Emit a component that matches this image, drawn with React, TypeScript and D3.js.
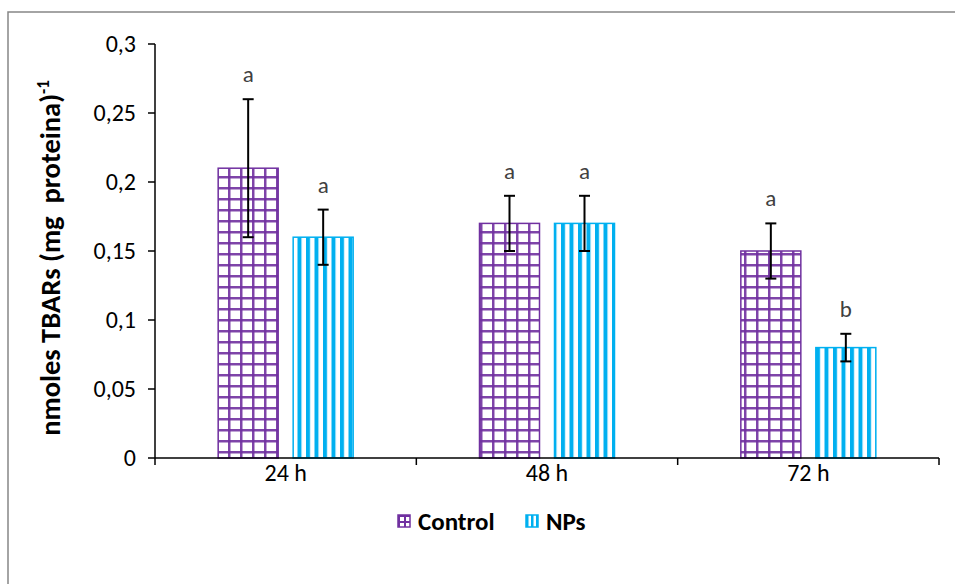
import React from 'react';
import * as d3 from 'd3';

const categories = ['24 h', '48 h', '72 h'];
const series = ['Control', 'NPs'];
const controlValues = [0.21, 0.17, 0.15];
const npsValues = [0.16, 0.17, 0.08];
const controlErrors = [0.05, 0.02, 0.02];
const npsErrors = [0.02, 0.02, 0.01];
const controlLetters = ['a', 'a', 'a'];
const npsLetters = ['a', 'a', 'b'];
const yTicks = [0, 0.05, 0.1, 0.15, 0.2, 0.25, 0.3];

const colors = { Control: '#7030A0', NPs: '#00B0F0' };
const font = 'Carlito, Calibri, Lato, sans-serif';

const W = 955;
const H = 584;
const margin = { left: 155, right: 16, top: 44, bottom: 126 };
const xEnd = 939;

const fmt = d3.formatLocale({ decimal: ',', thousands: '.', grouping: [3], currency: ['', ''] }).format('.2~f');

export default function App() {
  const x = d3.scaleBand().domain(categories).range([margin.left, xEnd]).padding(0);
  const y = d3.scaleLinear().domain([0, 0.3]).range([H - margin.bottom, margin.top]);

  // one inner band per category for the two series
  const rows = categories.map((c, i) => {
    const center = (x(c) as number) + x.bandwidth() / 2;
    const inner = d3.scaleBand().domain(series).range([center - 67.5, center + 67.5]).paddingInner(0.2).paddingOuter(0);
    return [
      { cat: c, s: 'Control', v: controlValues[i], e: controlErrors[i], l: controlLetters[i], x0: inner('Control') as number, w: inner.bandwidth() },
      { cat: c, s: 'NPs', v: npsValues[i], e: npsErrors[i], l: npsLetters[i], x0: inner('NPs') as number, w: inner.bandwidth() },
    ];
  }).flat();

  const y0 = y(0);

  return (
    <svg width={W} height={H} style={{ position: 'absolute', left: 0, top: 0, fontFamily: font }}>
      <defs>
        <pattern id="grid" patternUnits="userSpaceOnUse" width={12} height={11}>
          <rect width={12} height={11} fill="#fff" />
          <rect x={0} y={0} width={12} height={2.5} fill={colors.Control} opacity={0.9} />
          <rect x={0} y={0} width={2.5} height={11} fill={colors.Control} opacity={0.9} />
        </pattern>
        <pattern id="stripes" patternUnits="userSpaceOnUse" width={8.5} height={10}>
          <rect width={8.5} height={10} fill="#fff" />
          <rect x={0} y={0} width={4} height={10} fill={colors.NPs} />
        </pattern>
        <pattern id="gridS" patternUnits="userSpaceOnUse" x={398} y={515} width={6} height={6}>
          <rect width={6} height={6} fill="#fff" />
          <rect x={0} y={0} width={6} height={2} fill={colors.Control} />
          <rect x={0} y={0} width={2} height={6} fill={colors.Control} />
        </pattern>
        <pattern id="stripesS" patternUnits="userSpaceOnUse" x={526} y={515} width={5} height={6}>
          <rect width={5} height={6} fill="#fff" />
          <rect x={0} y={0} width={2.5} height={6} fill={colors.NPs} />
        </pattern>
      </defs>
      <rect x={0} y={0} width={W} height={H} fill="#fff" />
      <rect x={8} y={12} width={W} height={H} fill="#fff" stroke="#868686" strokeWidth={1.5} />

      {/* bars */}
      {rows.map((r, i) => (
        <rect key={'b' + i} x={r.x0} y={y(r.v)} width={r.w} height={y0 - y(r.v)}
          fill={r.s === 'Control' ? 'url(#grid)' : 'url(#stripes)'}
          stroke={r.s === 'Control' ? colors.Control : colors.NPs} strokeWidth={1.5} />
      ))}

      {/* error bars */}
      {rows.map((r, i) => {
        const cx = r.x0 + r.w / 2;
        return (
          <g key={'e' + i} stroke="#000" strokeWidth={2}>
            <line x1={cx} x2={cx} y1={y(r.v + r.e)} y2={y(r.v - r.e)} />
            <line x1={cx - 5.5} x2={cx + 5.5} y1={y(r.v + r.e)} y2={y(r.v + r.e)} />
            <line x1={cx - 5.5} x2={cx + 5.5} y1={y(r.v - r.e)} y2={y(r.v - r.e)} />
          </g>
        );
      })}

      {/* letters */}
      {rows.map((r, i) => (
        <text key={'l' + i} x={r.x0 + r.w / 2} y={y(r.v + r.e) - 17} textAnchor="middle" fontSize={23} fill="#404040">{r.l}</text>
      ))}

      {/* y axis */}
      <line x1={margin.left} x2={margin.left} y1={y(0.3)} y2={y0} stroke="#000" strokeWidth={1.5} />
      {yTicks.map(t => (
        <g key={'t' + t}>
          <line x1={margin.left - 7} x2={margin.left} y1={y(t)} y2={y(t)} stroke="#000" strokeWidth={1.5} />
          <text x={136} y={y(t) + 8} textAnchor="end" fontSize={24} fill="#000">{fmt(t)}</text>
        </g>
      ))}

      {/* x axis */}
      <line x1={margin.left} x2={xEnd} y1={y0} y2={y0} stroke="#000" strokeWidth={1.5} />
      {[...categories.map(c => x(c) as number), xEnd].map((p, i) => (
        <line key={'xt' + i} x1={p} x2={p} y1={y0} y2={y0 + 7} stroke="#000" strokeWidth={1.5} />
      ))}
      {categories.map(c => (
        <text key={'xl' + c} x={(x(c) as number) + x.bandwidth() / 2} y={y0 + 23} textAnchor="middle" fontSize={24} fill="#000">{c}</text>
      ))}

      {/* y label */}
      <text transform={`translate(60,258) rotate(-90)`} textAnchor="middle" fontSize={28.5} fontWeight="bold" fill="#000">
        {'nmoles TBARs (mg\u00a0 proteina)'}<tspan dy={-11} fontSize={17}>-1</tspan>
      </text>

      {/* legend */}
      {series.map((s, i) => {
        const lx = i === 0 ? 398 : 526;
        return (
          <g key={'lg' + s}>
            <rect x={lx} y={515} width={12} height={12} fill={s === 'Control' ? 'url(#gridS)' : 'url(#stripesS)'}
              stroke={s === 'Control' ? colors.Control : colors.NPs} strokeWidth={1.5} />
            <text x={lx + 20} y={530} fontSize={25} fontWeight="bold" fill="#000">{s}</text>
          </g>
        );
      })}
    </svg>
  );
}
